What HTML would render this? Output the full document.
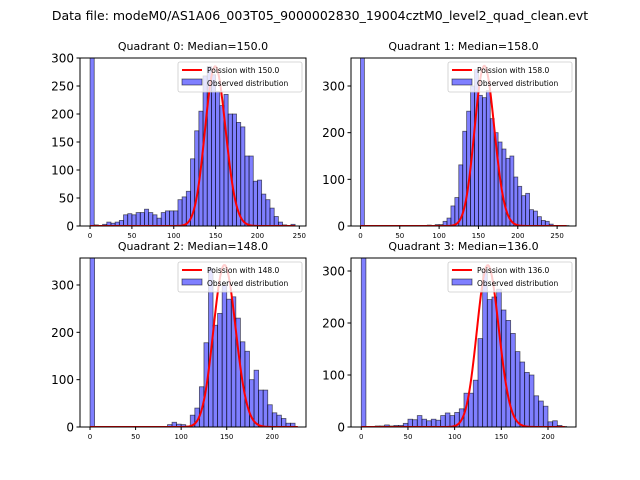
<!DOCTYPE html>
<html><head><meta charset="utf-8"><style>
body{margin:0;background:#fff;}
svg{display:block;font-family:"DejaVu Sans","Liberation Sans",sans-serif;}
</style></head><body>
<svg id="chart" width="640" height="480" viewBox="0 0 640 480">
<text x="320" y="20" text-anchor="middle" font-size="12.5">Data file: modeM0/AS1A06_003T05_9000002830_19004cztM0_level2_quad_clean.evt</text>
</svg>
<script>
const binWidth = 5;
const q0Bins = [0,5,10,15,20,25,30,35,40,45,50,55,60,65,70,75,80,85,90,95,100,105,110,115,120,125,130,135,140,145,150,155,160,165,170,175,180,185,190,195,200,205,210,215,220,225,230,235,240];
const q0Counts = [900,2,1,3,7,5,7,10,20,22,20,24,24,30,24,20,14,24,27,27,27,47,52,62,120,170,205,268,285,270,240,215,235,200,200,185,177,125,125,80,82,57,47,32,17,7,2,1,3];
const q1Bins = [0,80,85,90,95,100,105,110,115,120,125,130,135,140,145,150,155,160,165,170,175,180,185,190,195,200,205,210,215,220,225,230,235,240,245,255,260];
const q1Counts = [1000,1,2,1,3,3,10,17,43,61,131,203,246,300,335,280,275,290,230,200,180,165,145,150,105,85,65,70,35,32,20,12,10,4,1,1,1];
const q2Bins = [0,85,90,95,100,105,110,115,120,125,130,135,140,145,150,155,160,165,170,175,180,185,190,195,200,205,210,215,220];
const q2Counts = [1000,5,10,6,5,2,25,40,85,178,335,215,240,300,270,275,230,180,160,100,120,78,78,47,30,25,18,8,8];
const q3Bins = [0,5,10,15,20,25,30,35,40,45,50,55,60,65,70,75,80,85,90,95,100,105,110,115,120,125,130,135,140,145,150,155,160,165,170,175,180,185,190,195,200,205,210,215];
const q3Counts = [1000,1,1,2,2,4,2,3,3,7,15,14,22,15,12,15,13,22,27,22,28,35,65,65,90,170,300,245,250,265,225,205,180,145,125,105,100,60,50,40,10,12,3,1];
const medians = [150.0,158.0,148.0,136.0];
const curvePeaks = [285,343,342,311];
const curveMax = [245,262,228,218];
const yTicks = [[0,50,100,150,200,250,300],[0,100,200,300],[0,100,200,300],[0,100,200,300]];
const xTicks = [[0,50,100,150,200,250],[0,50,100,150,200,250],[0,50,100,150,200],[0,50,100,150,200]];
const xDomains = [[-12,258],[-12,274],[-11,237],[-11,230]];
const yMax = [300,360,357,325];
const boxes = [[80,58,306,226],[351,58,576,226],[80,258,306,427],[351,258,576,427]];
const allBins=[q0Bins,q1Bins,q2Bins,q3Bins], allCounts=[q0Counts,q1Counts,q2Counts,q3Counts];
const NS='http://www.w3.org/2000/svg';
const svg=document.getElementById('chart');
function mk(tag,attrs,parent){const e=document.createElementNS(NS,tag);for(const k in attrs)e.setAttribute(k,attrs[k]);(parent||svg).appendChild(e);return e;}
function logPois(k,mu){let s=0;for(let i=2;i<=k;i++)s+=Math.log(i);return k*Math.log(mu)-mu-s;}
for(let p=0;p<4;p++){
  const [L,T,R,B]=boxes[p];
  const g=mk('g',{});
  
  
  const xs=v=>L+(v-xDomains[p][0])/(xDomains[p][1]-xDomains[p][0])*(R-L);
  const ys=v=>B-Math.min(v,yMax[p]+5)/yMax[p]*(B-T);
  const cp=mk('clipPath',{id:'c'+p},g);mk('rect',{x:L,y:T,width:R-L,height:B-T},cp);
  const bg=mk('g',{'clip-path':'url(#c'+p+')'},g);
  allBins[p].forEach((b,i)=>{
    const r=mk('rect',{x:xs(b),y:ys(allCounts[p][i]),width:xs(b+binWidth)-xs(b),height:B-ys(allCounts[p][i]),fill:'rgba(0,0,255,0.5)',stroke:'rgba(0,0,0,0.6)','stroke-width':0.8},bg);
    
    
  });
  const mu=medians[p];const peak=Math.exp(logPois(Math.floor(mu),mu));
  let d='';for(let k=0;k<=curveMax[p];k++){const v=Math.exp(logPois(k,mu))/peak*curvePeaks[p];d+=(k?'L':'M')+xs(k).toFixed(2)+' '+ys(v).toFixed(2);}
  const c=mk('path',{d:d,fill:'none',stroke:'red','stroke-width':2},bg);
  
  
  mk('rect',{x:L,y:T,width:R-L,height:B-T,fill:'none',stroke:'#000','stroke-width':1},g);
  yTicks[p].forEach(t=>{const y=ys(t);mk('line',{x1:L-3.5,x2:L,y1:y,y2:y,stroke:'#000'},g);
    const tx=mk('text',{x:L-6,y:y+4.5,'text-anchor':'end','font-size':12},g);tx.textContent=t;
    
    });
  xTicks[p].forEach(t=>{const x=xs(t);mk('line',{x1:x,x2:x,y1:B,y2:B+3,stroke:'#000'},g);
    const tx=mk('text',{x:x,y:B+12,'text-anchor':'middle','font-size':7},g);tx.textContent=t;
    
    });
  const ti=mk('text',{x:(L+R)/2,y:T-8,'text-anchor':'middle','font-size':11},g);ti.textContent='Quadrant '+p+': Median='+mu.toFixed(1);
  
  
  const lg=mk('g',{},g);
  
  
  mk('rect',{x:R-128,y:T+4,width:124,height:30,rx:2,fill:'rgba(255,255,255,0.8)',stroke:'#ccc','stroke-width':0.8},lg);
  mk('line',{x1:R-124,x2:R-104,y1:T+12,y2:T+12,stroke:'red','stroke-width':2},lg);
  mk('rect',{x:R-124,y:T+21,width:20,height:6,fill:'rgba(0,0,255,0.5)',stroke:'rgba(0,0,0,0.6)','stroke-width':0.8},lg);
  const l1=mk('text',{x:R-99,y:T+15,'font-size':7.5},lg);l1.textContent='Poission with '+mu.toFixed(1);
  const l2=mk('text',{x:R-99,y:T+28,'font-size':7.5},lg);l2.textContent='Observed distribution';
}
</script>
</body></html>
